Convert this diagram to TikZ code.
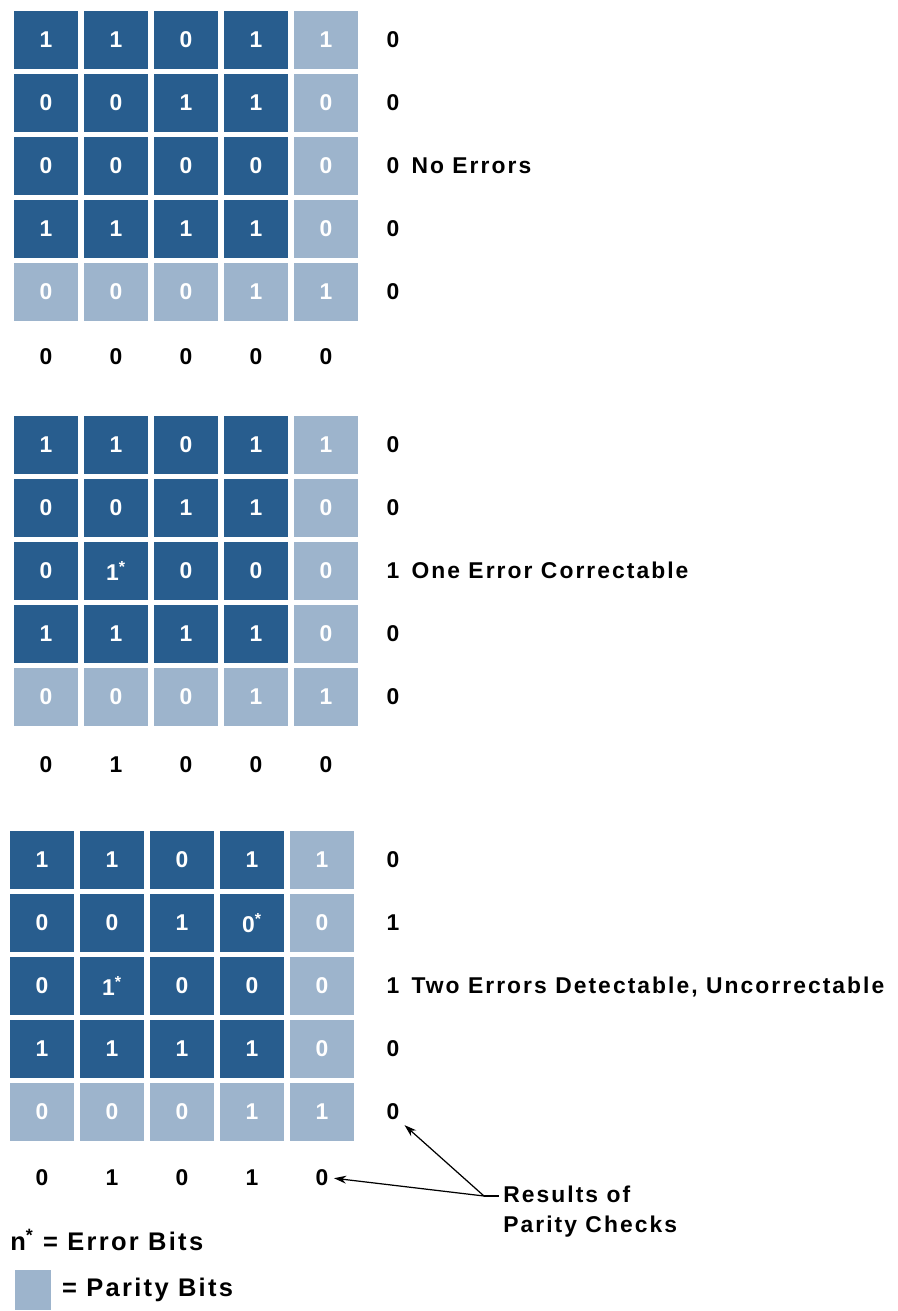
\documentclass[tikz,border=0pt]{standalone}
\usepackage{fontspec}
\setmainfont[LetterSpace=9]{Liberation Sans}
\usepackage{tikz}
\usetikzlibrary{positioning, arrows.meta}
\definecolor{databitblue}{RGB}{40,93,142}
\definecolor{paritybitblue}{RGB}{157,180,204}

\begin{document}
\begin{tikzpicture}[
        x=0.02cm, y=-0.02cm, % one unit = one pixel of the page, y downwards
        >={Stealth[length=7pt, width=4.5pt]},
        font=\fontsize{13}{17}\selectfont\bfseries,
        databit/.style={rectangle, fill=databitblue, text=white, minimum width=1.28cm, minimum height=1.16cm, inner sep=0pt},
        paritybit/.style={databit, fill=paritybitblue},
        result/.style={inner sep=2pt},
        status/.style={anchor=base west, inner sep=0pt},
        pointer/.style={->, line width=0.7pt, shorten >=1pt}
    ]

    \useasboundingbox (0,0) rectangle (898,1311);

    % ==========================================
    % 1. NO ERRORS
    % ==========================================
    \foreach \rowvals [count=\r] in {{1,1,0,1,1},{0,0,1,1,0},{0,0,0,0,0},{1,1,1,1,0},{0,0,0,1,1}} {
        \foreach \v [count=\c] in \rowvals {
            \def\cellstyle{databit}
            \ifnum\r=5 \def\cellstyle{paritybit}\fi
            \ifnum\c=5 \def\cellstyle{paritybit}\fi
            \node[\cellstyle] (g1-\r-\c) at ({46+70*(\c-1)}, {40+63*(\r-1)}) {\v};
        }
    }
    \foreach \v [count=\r] in {0,0,0,0,0}
        \node[result] (g1r\r) at (393, {40+63*(\r-1)}) {\v};
    \foreach \v [count=\c] in {0,0,0,0,0}
        \node[result] (g1b\c) at ({46+70*(\c-1)}, 357) {\v};
    \node[status] (ok) at ([xshift=0.16cm]g1r3.base east) {No Errors};

    % ==========================================
    % 2. ONE ERROR
    % ==========================================
    \foreach \rowvals [count=\r] in {{1,1,0,1,1},{0,0,1,1,0},{0,1\textsuperscript{*},0,0,0},{1,1,1,1,0},{0,0,0,1,1}} {
        \foreach \v [count=\c] in \rowvals {
            \def\cellstyle{databit}
            \ifnum\r=5 \def\cellstyle{paritybit}\fi
            \ifnum\c=5 \def\cellstyle{paritybit}\fi
            \node[\cellstyle] (g2-\r-\c) at ({46+70*(\c-1)}, {445+63*(\r-1)}) {\v};
        }
    }
    \foreach \v [count=\r] in {0,0,1,0,0}
        \node[result] (g2r\r) at (393, {445+63*(\r-1)}) {\v};
    \foreach \v [count=\c] in {0,1,0,0,0}
        \node[result] (g2b\c) at ({46+70*(\c-1)}, 765) {\v};
    \node[status] (one) at ([xshift=0.16cm]g2r3.base east) {One Error Correctable};

    % ==========================================
    % 3. TWO ERRORS
    % ==========================================
    \foreach \rowvals [count=\r] in {{1,1,0,1,1},{0,0,1,0\textsuperscript{*},0},{0,1\textsuperscript{*},0,0,0},{1,1,1,1,0},{0,0,0,1,1}} {
        \foreach \v [count=\c] in \rowvals {
            \def\cellstyle{databit}
            \ifnum\r=5 \def\cellstyle{paritybit}\fi
            \ifnum\c=5 \def\cellstyle{paritybit}\fi
            \node[\cellstyle] (g3-\r-\c) at ({42+70*(\c-1)}, {860+63*(\r-1)}) {\v};
        }
    }
    \foreach \v [count=\r] in {0,1,1,0,0}
        \node[result] (g3r\r) at (393, {860+63*(\r-1)}) {\v};
    \foreach \v [count=\c] in {0,1,0,1,0}
        \node[result] (g3b\c) at ({42+70*(\c-1)}, 1178) {\v};
    \node[status] (two) at ([xshift=0.16cm]g3r3.base east) {Two Errors Detectable, Uncorrectable};

    % ==========================================
    % 4. LEGEND AND POINTERS
    % ==========================================
    \node[anchor=north west, align=left, inner sep=0pt] (checks) at (503,1186) {Results of\\Parity Checks};
    \coordinate (fork) at (484,1196);
    \coordinate (forkend) at (499,1196);
    \draw[line width=0.7pt] (fork) -- (forkend);
    \draw[pointer] (fork) -- (g3r5.south east);
    \draw[pointer] (fork) -- (g3b5.east);

    \node[anchor=west, inner sep=0pt, font=\fontsize{14.5}{17}\selectfont\bfseries] (errkey) at (10,1240) {n\textsuperscript{*} = Error Bits};
    \node[paritybit, minimum width=0.74cm, minimum height=0.8cm] (swatch) at (33,1290) {};
    \node[right=0.2cm of swatch, inner sep=0pt, font=\fontsize{14.5}{17}\selectfont\bfseries] (parkey) {= Parity Bits};

\end{tikzpicture}
\end{document}
